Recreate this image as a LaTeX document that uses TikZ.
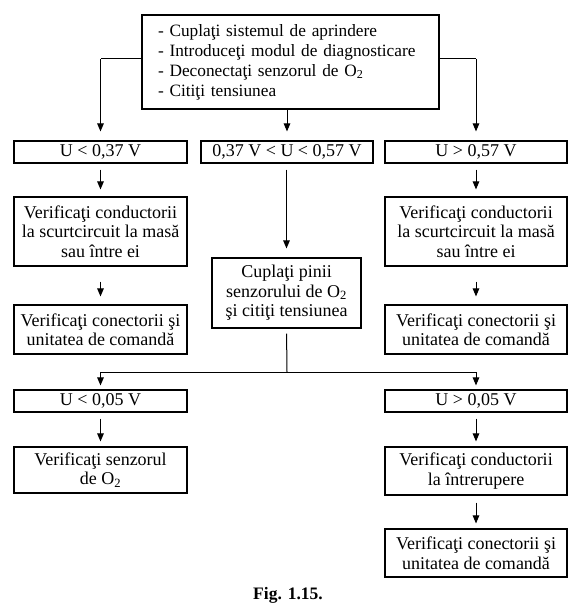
\documentclass[tikz,border=0pt]{standalone}
\usepackage{fontspec}
\setmainfont{Liberation Serif}
\usetikzlibrary{arrows.meta}
\begin{document}
\begin{tikzpicture}[x=1pt,y=-1pt,
  box/.style={draw=black, line width=1.1pt, inner sep=0pt, align=center,
    font=\fontsize{18}{19.5}\selectfont, text=black},
  arr/.style={line width=1pt, -{Triangle[length=8pt,width=6.5pt]}},
  ln/.style={line width=1pt}]
\useasboundingbox[fill=white] (0,0) rectangle (572,612);
% top box
\node[box, font=\fontsize{17.3}{20}\selectfont, minimum width=297pt, minimum height=94pt, align=left, text width=265pt] (top) at (290.5,62)
  {- Cuplaţi sistemul de aprindere\\
   - Introduceţi modul de diagnosticare\\
   - Deconectaţi senzorul de O\textsubscript{2}\\
   - Citiţi tensiunea};
% row 1
\node[box, minimum width=173pt, minimum height=22pt] (r1L) at (100.5,152) {U < 0,37 V};
\node[box, minimum width=172pt, minimum height=22pt] (r1M) at (287,152) {0,37 V < U < 0,57 V};
\node[box, minimum width=182pt, minimum height=22pt] (r1R) at (476,152) {U > 0,57 V};
% row 2
\node[box, minimum width=173pt, minimum height=69pt] (r2L) at (100.5,231.5)
  {Verificaţi conductorii\\la scurtcircuit la masă\\sau între ei};
\node[box, minimum width=182pt, minimum height=69pt] (r2R) at (476,231.5)
  {Verificaţi conductorii\\la scurtcircuit la masă\\sau între ei};
\node[box, minimum width=149pt, minimum height=70pt] (mid) at (286.5,293)
  {Cuplaţi pinii\\senzorului de O\textsubscript{2}\\şi citiţi tensiunea};
% row 3
\node[box, minimum width=173pt, minimum height=49pt] (r3L) at (100.5,329.5)
  {Verificaţi conectorii şi\\unitatea de comandă};
\node[box, minimum width=182pt, minimum height=49pt] (r3R) at (476,329.5)
  {Verificaţi conectorii şi\\unitatea de comandă};
% row 4
\node[box, minimum width=173pt, minimum height=22pt] (r4L) at (100.5,401) {U < 0,05 V};
\node[box, minimum width=182pt, minimum height=22pt] (r4R) at (476,401) {U > 0,05 V};
% row 5
\node[box, minimum width=173pt, minimum height=46pt] (r5L) at (100.5,470)
  {Verificaţi senzorul\\de O\textsubscript{2}};
\node[box, minimum width=182pt, minimum height=48pt] (r5R) at (476,471)
  {Verificaţi conductorii\\la întrerupere};
% row 6
\node[box, minimum width=182pt, minimum height=48pt] (r6R) at (476,553)
  {Verificaţi conectorii şi\\unitatea de comandă};
% caption
\node[font=\fontsize{17.5}{20}\selectfont\bfseries, inner sep=0pt] (cap) at (288,595) {Fig. 1.15.};
% connectors
\coordinate (tl) at (100.5,59);
\coordinate (tr) at (476,59);
\draw[ln] (top.west |- tl) -- (tl);
\draw[arr, shorten >=9pt] (tl) -- (r1L.north);
\draw[ln] (top.east |- tr) -- (tr);
\draw[arr, shorten >=9pt] (tr) -- (r1R.north);
\draw[arr, shorten >=9pt] (top.south -| r1M.north) -- (r1M.north);
\draw[arr, shorten <=6pt, shorten >=7pt] (r1L.south) -- (r2L.north);
\draw[arr, shorten <=6pt, shorten >=7pt] (r1R.south) -- (r2R.north);
\draw[arr, shorten <=6pt, shorten >=9pt] (r1M.south -| mid.north) -- (mid.north);
\draw[arr, shorten <=15pt, shorten >=8pt] (r2L.south) -- (r3L.north);
\draw[arr, shorten <=15pt, shorten >=8pt] (r2R.south) -- (r3R.north);
\coordinate (j) at (287,372);
\coordinate (jl) at (100.5,372);
\coordinate (jr) at (476,372);
\draw[ln, shorten <=5pt] (mid.south) -- (j);
\draw[ln] (jl) -- (jr);
\draw[arr, shorten >=4pt] (jl) -- (r4L.north);
\draw[arr, shorten >=4pt] (jr) -- (r4R.north);
\draw[arr, shorten <=6pt, shorten >=5pt] (r4L.south) -- (r5L.north);
\draw[arr, shorten <=6pt, shorten >=5pt] (r4R.south) -- (r5R.north);
\draw[arr, shorten <=7pt, shorten >=5pt] (r5R.south) -- (r6R.north);
\end{tikzpicture}
\end{document}
